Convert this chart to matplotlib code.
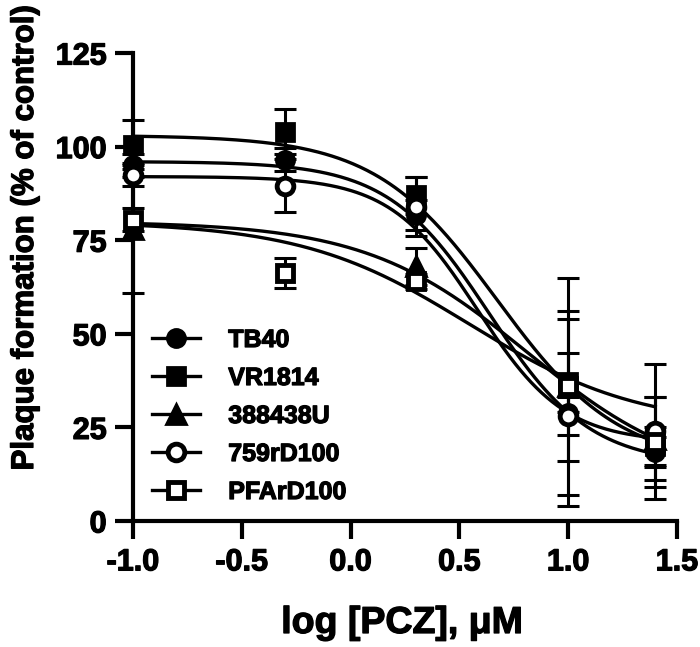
import numpy as np
import matplotlib
matplotlib.use("Agg")
import matplotlib.pyplot as plt
import matplotlib.patheffects as pe
from matplotlib.lines import Line2D

plt.rcParams['font.family'] = ['Liberation Sans', 'DejaVu Sans']
plt.rcParams['font.weight'] = 'bold'
plt.rcParams['axes.unicode_minus'] = False

# ---- data ----
log_pcz = [-1.0, -0.3, 0.3, 1.0, 1.4]
series_names = ["TB40", "VR1814", "388438U", "759rD100", "PFArD100"]

tb40_mean = [95.0, 96.5, 81.8, 28.9, 18.5]
tb40_err = [3.0, 3.0, 4.0, 25.0, 4.0]
vr1814_mean = [100.5, 104.0, 87.0, 37.0, 20.0]
vr1814_err = [6.5, 6.0, 5.0, 8.0, 5.0]
u388438_mean = [78.0, np.nan, 68.0, 36.0, 22.0]
u388438_err = [17.0, np.nan, 5.0, 20.0, 11.0]
rd759_mean = [92.5, 89.6, 84.0, 28.0, 24.0]
rd759_err = [3.0, 7.0, 8.0, 5.0, 18.0]
pfa_mean = [80.5, 66.3, 64.0, 36.0, 21.0]
pfa_err = [3.0, 4.0, 2.0, 29.0, 12.0]

# fitted curve parameters (top, bottom, logIC50, hill)
tb40_fit = [96.0, 15.0, 0.636, 1.87]
vr1814_fit = [103.0, 15.0, 0.674, 1.545]
u388438_fit = [80.0, 10.0, 0.813, 1.165]
rd759_fit = [92.0, 21.0, 0.582, 2.16]
pfa_fit = [80.0, 25.0, 0.548, 1.12]

means = [tb40_mean, vr1814_mean, u388438_mean, rd759_mean, pfa_mean]
errs = [tb40_err, vr1814_err, u388438_err, rd759_err, pfa_err]
fits = [tb40_fit, vr1814_fit, u388438_fit, rd759_fit, pfa_fit]
markers = ['o', 's', '^', 'o', 's']
faces = ['black', 'black', 'black', 'white', 'white']
msizes = [13, 13, 14, 12, 12]
mews = [2, 2, 2, 3.5, 3.5]

x_ticks = [-1.0, -0.5, 0.0, 0.5, 1.0, 1.5]
y_ticks = [0, 25, 50, 75, 100, 125]

heavy = [pe.withStroke(linewidth=0.9, foreground='black')]

fig = plt.figure(figsize=(7.0, 6.47), dpi=100)
ax = fig.add_axes([133/700, 1 - 521/647, (677 - 133)/700, (521 - 53)/647])

xx = np.linspace(min(log_pcz), max(log_pcz), 300)
for fit in fits:
    top, bot, c, h = fit
    yy = bot + (top - bot) / (1 + 10 ** ((xx - c) * h))
    ax.plot(xx, yy, color='black', lw=2.4, zorder=2, clip_on=False)

for m, e in zip(means, errs):
    ax.errorbar(log_pcz, m, yerr=e, fmt='none', ecolor='black', elinewidth=2.2,
                capsize=8, capthick=2.2, zorder=3, clip_on=False)

for m, mk, fc, ms, mw in zip(means, markers, faces, msizes, mews):
    ax.plot(log_pcz, m, linestyle='none', marker=mk, markersize=ms,
            markerfacecolor=fc, markeredgecolor='black', markeredgewidth=mw,
            zorder=4, clip_on=False)

ax.set_xlim(-1.0, 1.5)
ax.set_ylim(0, 125)
ax.set_xticks(x_ticks)
ax.set_xticklabels([f"{v:.1f}" for v in x_ticks])
ax.set_yticks(y_ticks)
ax.set_yticklabels([str(v) for v in y_ticks])
for s in ['top', 'right']:
    ax.spines[s].set_visible(False)
for s in ['left', 'bottom']:
    ax.spines[s].set_linewidth(3)
ax.tick_params(axis='both', length=13, width=3, labelsize=22, pad=6)
for lbl in ax.get_xticklabels() + ax.get_yticklabels():
    lbl.set_fontweight('bold')
    lbl.set_path_effects(heavy)

handles = []
for name, mk, fc, ms, mw in zip(series_names, markers, faces, msizes, mews):
    handles.append(Line2D([0], [0], color='black', lw=2.4, marker=mk, markersize=ms,
                          markerfacecolor=fc, markeredgecolor='black',
                          markeredgewidth=mw, label=name))
leg = fig.legend(handles=handles, loc='upper left',
                 bbox_to_anchor=(152/700, 1 - 328/647),
                 frameon=False, handlelength=1.9,
                 handletextpad=1.15, labelspacing=0.56, borderpad=0,
                 borderaxespad=0, prop={'weight': 'bold', 'size': 18})
for t in leg.get_texts():
    t.set_path_effects(heavy)

fig.text(25/700, 1 - 238/647, "Plaque formation (% of control)", rotation=90,
         ha='center', va='center', fontsize=22.5, fontweight='bold',
         path_effects=heavy)
fig.text(402/700, 1 - 623/647, "log [PCZ], \u03bcM", ha='center', va='center',
         fontsize=27, fontweight='bold', path_effects=heavy)

fig.savefig("out.png", dpi=100)
